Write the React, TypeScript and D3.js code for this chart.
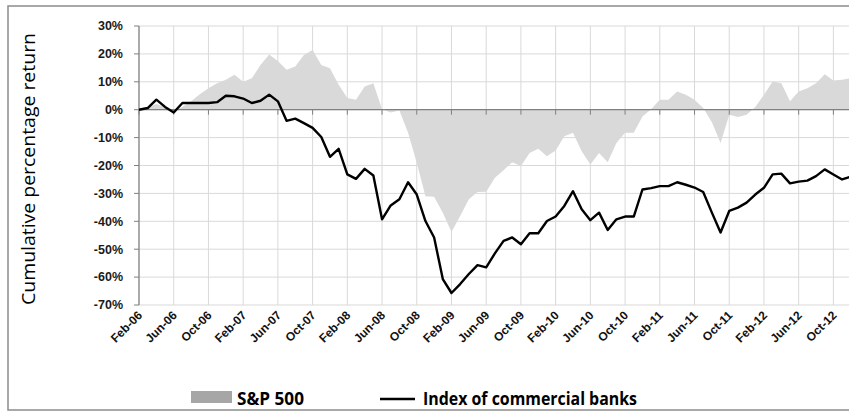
import React from "react";
import * as d3 from "d3";

// Month categories: Feb-06 .. Dec-12 (monthly)
const startMonth = new Date(2006, 1, 1);
const monthCount = 83;
const months = d3.range(monthCount).map((i) => d3.timeMonth.offset(startMonth, i));

// Tick labels every 4 months
const tickLabels = [
  "Feb-06", "Jun-06", "Oct-06", "Feb-07", "Jun-07", "Oct-07", "Feb-08", "Jun-08",
  "Oct-08", "Feb-09", "Jun-09", "Oct-09", "Feb-10", "Jun-10", "Oct-10", "Feb-11",
  "Jun-11", "Oct-11", "Feb-12", "Jun-12", "Oct-12",
];

const yTicks = [30, 20, 10, 0, -10, -20, -30, -40, -50, -60, -70];

// S&P 500 cumulative return (%)
const sp500 = [
  0, 0.8, 2, 1, -0.6, 1, 3, 5.5, 7.7, 9.5,
  10.7, 12.5, 10, 11.3, 16, 19.8, 17.5, 14.3, 15.5, 19.6,
  21.4, 16, 14.9, 8.9, 4.2, 3.6, 8.3, 9.5, 0.2, -1,
  -0.3, -8.3, -19, -31, -31.2, -36.9, -43.8, -38.1, -32.1, -29.5,
  -29.4, -24.4, -21.7, -18.8, -20.2, -15.5, -14, -16.7, -14.6, -9.5,
  -8.3, -14.9, -19.6, -15.5, -18.8, -11.9, -8.3, -8.3, -2.4, 0.2,
  3.6, 3.6, 6.5, 5.4, 3.6, 0.6, -4.5, -11.9, -1.8, -2.6,
  -1.8, 1, 5.4, 10.1, 9.5, 3, 6.5, 7.7, 9.5, 12.7,
  10.5, 10.7, 11.3,
];

// Index of commercial banks cumulative return (%)
const banks = [
  0, 0.6, 3.6, 1, -1, 2.4, 2.4, 2.4, 2.4, 2.7,
  5, 4.8, 4, 2.4, 3.2, 5.4, 3, -4, -3.2, -4.8,
  -6.5, -9.8, -16.9, -14, -23.2, -24.8, -21.2, -23.6, -39.3, -34.3,
  -32.1, -26, -30.4, -39.9, -45.8, -60.7, -65.7, -62.5, -58.9, -55.7,
  -56.5, -51.5, -47, -45.8, -48.2, -44.3, -44.3, -39.9, -38.3, -34.5,
  -29.2, -35.7, -39.6, -36.9, -43.1, -39.3, -38.3, -38.3, -28.6, -28.1,
  -27.4, -27.4, -26, -26.9, -27.9, -29.5, -36.9, -44, -36.3, -35.1,
  -33.3, -30.4, -28, -23.2, -22.9, -26.4, -25.8, -25.4, -23.8, -21.4,
  -23.2, -25, -24,
];

const W = 849;
const H = 414;

export default function App() {
  const x = d3.scaleLinear().domain([0, 80]).range([139, 833.4]);
  const y = d3.scaleLinear().domain([-70, 30]).range([305, 26]);

  const area = d3
    .area<number>()
    .x((_, i) => x(i))
    .y0(y(0))
    .y1((d) => y(d));
  const line = d3
    .line<number>()
    .x((_, i) => x(i))
    .y((d) => y(d));

  const fmt = d3.timeFormat("%b-%y");
  const tickIdx = d3.range(0, 81, 4);
  const gridIdx = d3.range(0, 85, 4);

  return (
    <svg
      width={W}
      height={H}
      style={{ position: "absolute", left: 0, top: 0, background: "#fff" }}
      fontFamily="'Liberation Sans', Arial, sans-serif"
    >
      <rect x={0} y={0} width={W} height={H} fill="#fff" />
      {/* frame */}
      <rect x={8} y={6} width={W + 20} height={404} fill="none" stroke="#8c8c8c" strokeWidth={1.5} />

      {/* horizontal gridlines */}
      {yTicks.map((t) => (
        <line key={"hg" + t} x1={139} x2={W} y1={y(t)} y2={y(t)} stroke="#d9d9d9" strokeWidth={1} />
      ))}
      {/* vertical gridlines */}
      {gridIdx.map((i) => (
        <line key={"vg" + i} x1={x(i)} x2={x(i)} y1={y(30)} y2={y(-70)} stroke="#d9d9d9" strokeWidth={1} />
      ))}

      {/* S&P area */}
      <path d={area(sp500) || ""} fill="#d9d9d9" stroke="none" />

      {/* zero axis */}
      <line x1={139} x2={W} y1={y(0)} y2={y(0)} stroke="#808080" strokeWidth={1.2} />
      {tickIdx.map((i) => (
        <line key={"xt" + i} x1={x(i)} x2={x(i)} y1={y(0)} y2={y(0) + 5} stroke="#808080" strokeWidth={1} />
      ))}

      {/* y axis */}
      <line x1={139} x2={139} y1={y(30)} y2={y(-70)} stroke="#808080" strokeWidth={1.2} />
      {yTicks.map((t) => (
        <line key={"yt" + t} x1={134} x2={139} y1={y(t)} y2={y(t)} stroke="#808080" strokeWidth={1} />
      ))}
      {yTicks.map((t) => (
        <text
          key={"yl" + t}
          x={123}
          y={y(t)}
          dy="0.35em"
          textAnchor="end"
          fontSize={12.5}
          fontWeight="bold"
          fill="#1a1a1a"
        >
          {t + "%"}
        </text>
      ))}

      {/* banks line */}
      <path d={line(banks) || ""} fill="none" stroke="#000" strokeWidth={2.4} strokeLinejoin="round" />

      {/* x tick labels */}
      {tickIdx.map((i, k) => (
        <text
          key={"xl" + i}
          transform={`translate(${x(i) + 4},${316}) rotate(-45)`}
          textAnchor="end"
          fontSize={12}
          fontWeight="bold"
          fill="#111"
        >
          {tickLabels[k] || fmt(months[i])}
        </text>
      ))}

      {/* y axis title */}
      <text
        transform={`translate(35,169) rotate(-90)`}
        textAnchor="middle"
        fontFamily="'Open Sans', 'Noto Sans', sans-serif"
        fontSize={19}
        fill="#000"
        textLength={272}
        lengthAdjust="spacingAndGlyphs"
      >
        Cumulative percentage return
      </text>

      {/* legend */}
      <rect x={191} y={391} width={41} height={12} fill="#a6a6a6" />
      <text
        x={237}
        y={405}
        fontFamily="'Open Sans', 'Noto Sans', sans-serif"
        fontWeight="bold"
        fontSize={17}
        textLength={67}
        lengthAdjust="spacingAndGlyphs"
        fill="#000"
      >
        S&amp;P 500
      </text>
      <line x1={380} x2={415} y1={399} y2={399} stroke="#000" strokeWidth={2.5} />
      <text
        x={423}
        y={405}
        fontFamily="'Open Sans', 'Noto Sans', sans-serif"
        fontWeight="bold"
        fontSize={17}
        textLength={214}
        lengthAdjust="spacingAndGlyphs"
        fill="#000"
      >
        Index of commercial banks
      </text>
    </svg>
  );
}
